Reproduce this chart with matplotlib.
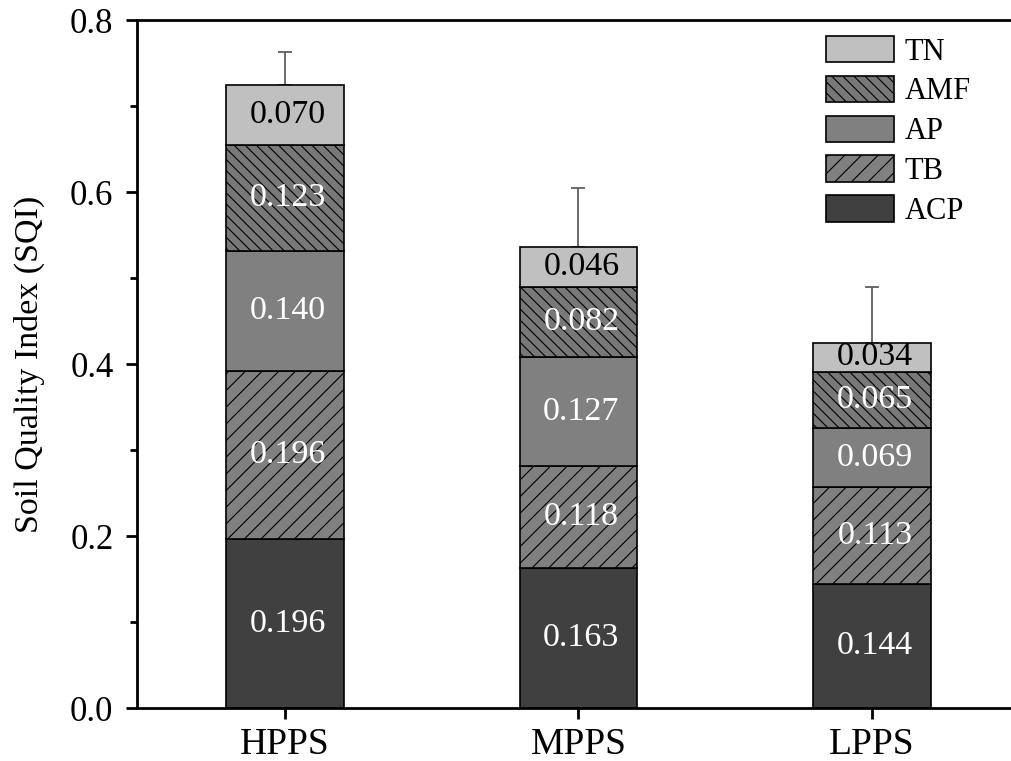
import matplotlib
matplotlib.use("Agg")
import matplotlib.pyplot as plt
import numpy as np

plt.rcParams['font.family'] = ['Liberation Serif', 'DejaVu Serif']
plt.rcParams['hatch.color'] = '#1a1a1a'
plt.rcParams['hatch.linewidth'] = 0.8

sites = ['HPPS', 'MPPS', 'LPPS']
components = ['ACP', 'TB', 'AP', 'AMF', 'TN']
acp = [0.196, 0.163, 0.144]
tb = [0.196, 0.118, 0.113]
ap = [0.140, 0.127, 0.069]
amf = [0.123, 0.082, 0.065]
tn = [0.070, 0.046, 0.034]
sqi_err = [0.038, 0.069, 0.064]

series = [acp, tb, ap, amf, tn]
colors = ['#404040', '#808080', '#808080', '#787878', '#c0c0c0']
hatches = [None, '//', None, '\\\\\\', None]
label_colors = ['white', 'white', 'white', 'white', 'black']

fig = plt.figure(figsize=(10.11, 7.61), dpi=100)
ax = fig.add_axes([0.1355, 0.0696, 0.8645, 0.9041])

x = np.arange(len(sites))
width = 0.40
bottom = np.zeros(len(sites))
handles = []
for vals, col, h, lc, name in zip(series, colors, hatches, label_colors, components):
    vals = np.array(vals)
    bars = ax.bar(x, vals, width, bottom=bottom, color=col, edgecolor='black',
                  linewidth=1.2, hatch=h, label=name, zorder=2)
    handles.append(bars)
    for xi, v, b in zip(x, vals, bottom):
        ax.text(xi + 0.01, b + v / 2, f'{v:.3f}', ha='center', va='center',
                fontsize=24.5, color=lc, zorder=3)
    bottom = bottom + vals

ax.errorbar(x, bottom, yerr=[np.zeros(len(sites)), sqi_err], fmt='none',
            ecolor='#606060', elinewidth=1.3, capsize=5, capthick=1.3, zorder=1)

ax.set_xlim(-0.504, 2.474)
ax.set_ylim(0, 0.8)
ax.set_xticks(x)
ax.set_xticklabels(sites)
ax.set_yticks(np.arange(0, 0.81, 0.2))
ax.set_yticklabels([f'{v:.1f}' for v in np.arange(0, 0.81, 0.2)])
ax.set_yticks(np.arange(0.1, 0.8, 0.2), minor=True)
ax.tick_params(axis='both', which='major', direction='out', length=8, width=2)
ax.tick_params(axis='y', which='major', labelsize=25, pad=9)
ax.tick_params(axis='x', which='major', labelsize=27, pad=6)
ax.tick_params(axis='y', which='minor', direction='out', length=5, width=2)
ax.set_ylabel('Soil Quality Index (SQI)', fontsize=24.5, labelpad=18)

for s in ['left', 'top', 'bottom']:
    ax.spines[s].set_linewidth(2)
ax.spines['right'].set_visible(False)

ax.legend(handles=handles[::-1], labels=components[::-1], loc='upper right',
          bbox_to_anchor=(0.978, 1.008), frameon=False, fontsize=22,
          handlelength=2.2, handleheight=0.95, labelspacing=0.3,
          handletextpad=0.35, borderaxespad=0.3)

fig.savefig('out.png', dpi=100)
